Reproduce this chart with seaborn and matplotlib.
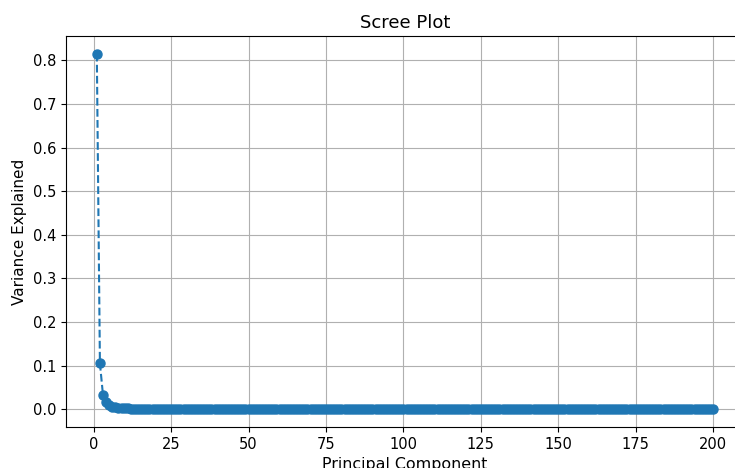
import matplotlib
matplotlib.use("Agg")
import matplotlib.pyplot as plt
import seaborn as sns
import pandas as pd

# Explained variance ratio per principal component (1..200)
head_variance = [0.815, 0.105, 0.032, 0.017, 0.010, 0.006, 0.004, 0.003, 0.0025, 0.002]
tail_variance = [
    0.0018, 0.0016, 0.0015, 0.0014, 0.0013, 0.0012, 0.0011, 0.0010, 0.0010, 0.0009,
    0.0009, 0.0008, 0.0008, 0.0008, 0.0007, 0.0007, 0.0007, 0.0006, 0.0006, 0.0006,
    0.0006, 0.0005, 0.0005, 0.0005, 0.0005, 0.0005, 0.0004, 0.0004, 0.0004, 0.0004,
    0.0004, 0.0004, 0.0003, 0.0003, 0.0003, 0.0003, 0.0003, 0.0003, 0.0003, 0.0003,
    0.0003, 0.0002, 0.0002, 0.0002, 0.0002, 0.0002, 0.0002, 0.0002, 0.0002, 0.0002,
    0.0002, 0.0002, 0.0002, 0.0002, 0.0002, 0.0002, 0.0002, 0.0001, 0.0001, 0.0001,
    0.0001, 0.0001, 0.0001, 0.0001, 0.0001, 0.0001, 0.0001, 0.0001, 0.0001, 0.0001,
    0.0001, 0.0001, 0.0001, 0.0001, 0.0001, 0.0001, 0.0001, 0.0001, 0.0001, 0.0001,
    0.0001, 0.0001, 0.0001, 0.0001, 0.0001, 0.0001, 0.0001, 0.0001, 0.0001, 0.0001,
    0.0001, 0.0001, 0.0001, 0.0001, 0.0001, 0.0001, 0.0001, 0.0001, 0.0001, 0.0001,
    0.00008, 0.00008, 0.00008, 0.00008, 0.00008, 0.00007, 0.00007, 0.00007, 0.00007, 0.00007,
    0.00006, 0.00006, 0.00006, 0.00006, 0.00006, 0.00005, 0.00005, 0.00005, 0.00005, 0.00005,
    0.00005, 0.00004, 0.00004, 0.00004, 0.00004, 0.00004, 0.00004, 0.00003, 0.00003, 0.00003,
    0.00003, 0.00003, 0.00003, 0.00003, 0.00003, 0.00002, 0.00002, 0.00002, 0.00002, 0.00002,
    0.00002, 0.00002, 0.00002, 0.00002, 0.00002, 0.00002, 0.00001, 0.00001, 0.00001, 0.00001,
    0.00001, 0.00001, 0.00001, 0.00001, 0.00001, 0.00001, 0.00001, 0.00001, 0.00001, 0.00001,
    0.00001, 0.00001, 0.00001, 0.00001, 0.00001, 0.00001, 0.00001, 0.00001, 0.00001, 0.00001,
    0.00001, 0.00001, 0.00001, 0.00001, 0.00001, 0.00001, 0.00001, 0.00001, 0.00001, 0.00001,
    0.00001, 0.00001, 0.00001, 0.00001, 0.00001, 0.00001, 0.00001, 0.00001, 0.00001, 0.00001,
]
variance = head_variance + tail_variance
components = list(range(1, len(variance) + 1))

df = pd.DataFrame({"Principal Component": components, "Variance Explained": variance})

fig = plt.figure(figsize=(7.35, 4.68), dpi=100)
# the plot area runs slightly past the right edge of the canvas
ax = fig.add_axes([0.0898, 0.0876, 0.9224, 0.8355])

blue = "#1f77b4"
sns.lineplot(data=df, x="Principal Component", y="Variance Explained", ax=ax,
             marker="o", linestyle="--", color=blue, markersize=6.5,
             markeredgewidth=1, markeredgecolor=blue, linewidth=1.5)

ax.set_title("Scree Plot", fontsize=13)
ax.set_xlabel("Principal Component", fontsize=11.4)
ax.set_ylabel("Variance Explained", fontsize=11)
ax.tick_params(labelsize=10.5)
ax.grid(True, color="#b0b0b0", linewidth=0.8)
ax.set_axisbelow(True)

fig.savefig("out.png", dpi=100)
